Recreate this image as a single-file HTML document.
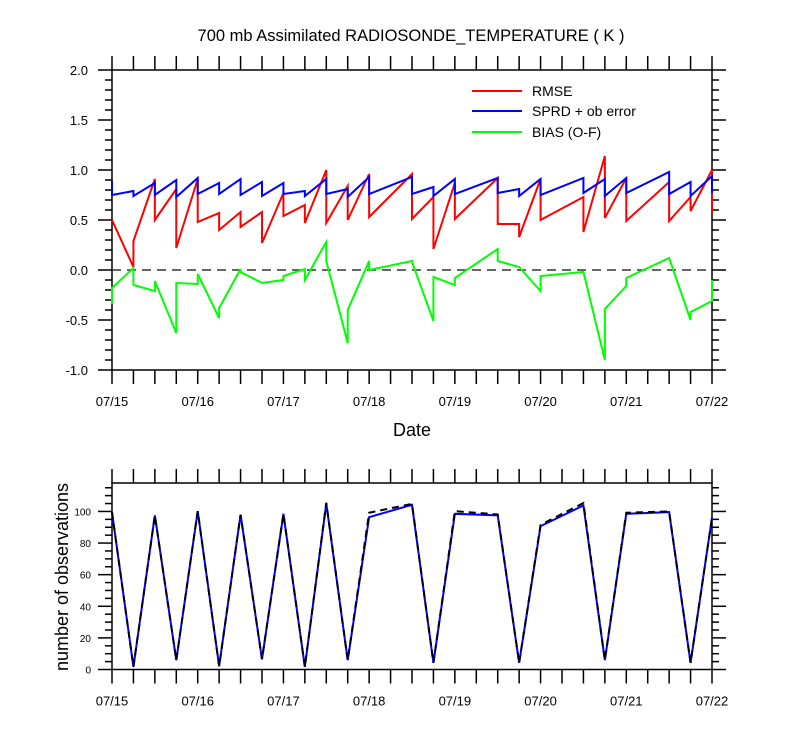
<!DOCTYPE html>
<html><head><meta charset="utf-8"><style>
html,body{margin:0;padding:0;background:#fff;}
svg{display:block;font-family:"Liberation Sans",Arial,sans-serif;}
</style></head><body>
<svg id="chart" width="800" height="750" viewBox="0 0 800 750">
<text x="411" y="41" text-anchor="middle" font-size="16.5">700 mb Assimilated RADIOSONDE_TEMPERATURE ( K )</text>
<g id="top"></g>
<g id="bot"></g>
<text x="412" y="436" text-anchor="middle" font-size="18">Date</text>
<text transform="translate(68,577) rotate(-90)" text-anchor="middle" font-size="18">number of observations</text>
<g>
<line x1="472" y1="91" x2="522" y2="91" stroke="#f00" stroke-width="2"/>
<text x="532" y="96" font-size="14">RMSE</text>
<line x1="472" y1="111" x2="522" y2="111" stroke="#00f" stroke-width="2"/>
<text x="532" y="116" font-size="14">SPRD + ob error</text>
<line x1="472" y1="132" x2="522" y2="132" stroke="#0f0" stroke-width="2"/>
<text x="532" y="137" font-size="14">BIAS (O-F)</text>
</g>
</svg>
<script>
const times=[0,0.25,0.5,0.75,1,1.25,1.5,1.75,2,2.25,2.5,2.75,3,3.5,3.75,4,4.5,4.75,5,5.5,5.75,6,6.5,6.75,7];
const dateLabels=["07/15","07/16","07/17","07/18","07/19","07/20","07/21","07/22"];
const rmseIn=[0.50,0.03,0.91,0.81,0.91,0.57,0.58,0.58,0.77,0.65,1.00,0.84,0.96,0.96,0.73,0.87,0.92,0.46,0.91,0.73,1.14,0.92,0.88,0.73,1.00];
const rmseOut=[0.50,0.29,0.50,0.22,0.48,0.40,0.43,0.27,0.54,0.47,0.47,0.50,0.53,0.51,0.21,0.51,0.46,0.33,0.50,0.38,0.52,0.49,0.49,0.59,0.57];
const sprdIn=[0.89,0.79,0.87,0.90,0.92,0.87,0.91,0.88,0.87,0.79,0.91,0.81,0.93,0.93,0.83,0.91,0.92,0.81,0.91,0.92,0.91,0.92,0.98,0.88,0.94];
const sprdOut=[0.75,0.74,0.75,0.73,0.76,0.76,0.75,0.74,0.76,0.74,0.76,0.73,0.76,0.76,0.74,0.76,0.77,0.74,0.75,0.77,0.74,0.77,0.76,0.74,0.77];
const biasIn=[-0.34,0.02,-0.21,-0.63,-0.14,-0.48,0.01,-0.13,-0.10,0.01,0.28,-0.73,0.09,0.09,-0.51,-0.15,0.21,0.03,-0.21,-0.02,-0.90,-0.16,0.12,-0.50,-0.31];
const biasOut=[-0.18,-0.15,-0.11,-0.13,-0.04,-0.38,-0.02,-0.13,-0.06,-0.10,0.09,-0.40,0.00,0.08,-0.07,-0.08,0.09,0.03,-0.06,-0.02,-0.39,-0.08,0.12,-0.42,-0.10];
const obsUsed=[99.6,1.7,97.5,5.9,100.2,2.1,98,6.5,98.5,1.7,105,5.9,96.4,104.2,4.2,98.5,97.5,4.2,90.7,103.8,5.9,98.5,99.6,4.2,96];
const obsTotal=[99.6,1.7,97.5,5.9,100.2,2.1,98,6.5,98.5,1.7,105.5,5.9,99.2,104.8,4.2,100.2,98.1,4.2,91.6,105.3,5.9,99.2,100,4.2,96];
const topTicks=["-1.0","-0.5","0.0","0.5","1.0","1.5","2.0"];
const botTicks=["0","20","40","60","80","100"];

const NS="http://www.w3.org/2000/svg";
const X0=112,X1=712;
function xs(d){return X0+(X1-X0)*d/7;}
const T0=70,T1=370; function yt(v){return T1-(v+1)*(T1-T0)/3;}
const B0=483,B1=669.5; function yb(v){return B1-v*(B1-B0)/118;}
function mk(parent,tag,attrs){const e=document.createElementNS(NS,tag);for(const k in attrs)e.setAttribute(k,attrs[k]);parent.appendChild(e);return e;}
function line(g,x1,y1,x2,y2){return mk(g,"line",{x1:x1,y1:y1,x2:x2,y2:y2,stroke:"#000","stroke-width":1.5});}

function frame(g,top,bot){
  const r=mk(g,"rect",{x:X0,y:top,width:X1-X0,height:bot-top,fill:"none",stroke:"#000","stroke-width":1.5});
  
  
  for(let k=0;k<=28;k++){const x=xs(k/4);line(g,x,bot,x,bot+14);line(g,x,top,x,top-14);}
  for(let i=0;i<dateLabels.length;i++){
    const t=mk(g,"text",{x:xs(i),y:bot+36,"text-anchor":"middle","font-size":13});
    t.textContent=dateLabels[i];
    
    
  }
}
function path(g,ys,vin,vout,color,name,dash){
  let d="";
  for(let i=0;i<times.length;i++){const x=xs(times[i]);d+=(i?"L":"M")+x+","+ys(vin[i]);if(vout)d+="L"+x+","+ys(vout[i]);}
  const p=mk(g,"path",{d:d,fill:"none",stroke:color,"stroke-width":2});
  if(dash)p.setAttribute("stroke-dasharray",dash);
  
  
}
const gt=document.getElementById("top");
frame(gt,T0,T1);
for(let i=0;i<=30;i++){const v=-1+i*0.1,y=yt(v),L=(i%5==0)?14:7;line(gt,X0,y,X0-L,y);line(gt,X1,y,X1+L,y);}
for(let i=0;i<topTicks.length;i++){
  const t=mk(gt,"text",{x:88,y:yt(parseFloat(topTicks[i]))+5,"text-anchor":"end","font-size":13});
  t.textContent=topTicks[i];
  
  
}
const zl=mk(gt,"line",{x1:X0,y1:yt(0),x2:X1,y2:yt(0),stroke:"#333","stroke-width":1.5,"stroke-dasharray":"9,6"});


path(gt,yt,rmseIn,rmseOut,"#f00","rmse-line");
path(gt,yt,sprdIn,sprdOut,"#00f","sprd-line");
path(gt,yt,biasIn,biasOut,"#0f0","bias-line");
const gb=document.getElementById("bot");
frame(gb,B0,B1);
for(let v=0;v<=115;v+=5){const y=yb(v),L=(v%20==0)?14:7;line(gb,X0,y,X0-L,y);line(gb,X1,y,X1+L,y);}
for(let i=0;i<botTicks.length;i++){
  const t=mk(gb,"text",{x:91,y:yb(+botTicks[i])+4,"text-anchor":"end","font-size":10});
  t.textContent=botTicks[i];
  
  
}
path(gb,yb,obsUsed,null,"#00f","obs-used-line");
path(gb,yb,obsTotal,null,"#000","obs-total-line","7,5");
</script>
</body></html>
